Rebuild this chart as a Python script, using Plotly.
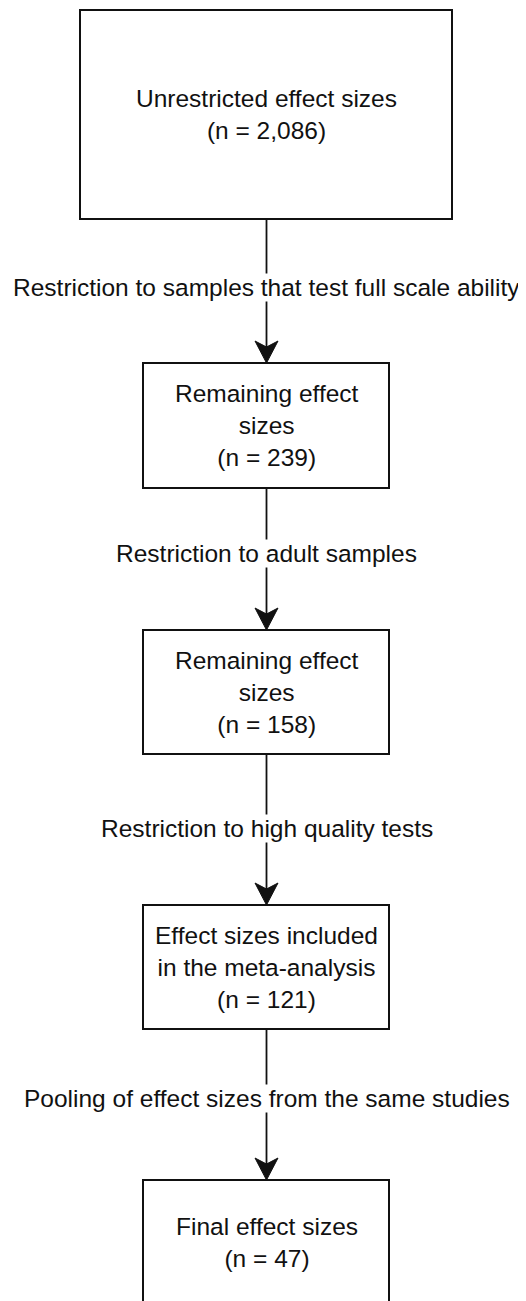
import plotly.graph_objects as go

# ---- data (content) ----
box_titles = [
    "Unrestricted effect sizes",
    "Remaining effect<br>sizes",
    "Remaining effect<br>sizes",
    "Effect sizes included<br>in the meta-analysis",
    "Final effect sizes",
]
box_counts = ["2,086", "239", "158", "121", "47"]
step_labels = [
    "Restriction to samples that test full scale ability",
    "Restriction to adult samples",
    "Restriction to high quality tests",
    "Pooling of effect sizes from the same studies",
]

# ---- layout geometry (pixels, y downward) ----
W, H = 526, 1301
PAGE_MARGIN = 8  # default body margin of the html page
cx = 266.5
box_x0 = [80, 143, 143, 143, 143]
box_x1 = [452, 389, 389, 389, 389]
box_y0 = [10, 363, 630, 905, 1180]
box_y1 = [219, 488, 754, 1029, 1305]
label_y = [287, 553, 828, 1098]
arrow_len = 22
arrow_half = 11.5
arrow_notch = 6

font = dict(family="Liberation Sans, Arial, sans-serif", size=24.5, color="#111111")

fig = go.Figure()
shapes = []
annotations = []

for i in range(len(box_titles)):
    shapes.append(dict(type="rect", xref="x", yref="y",
                       x0=box_x0[i], x1=box_x1[i], y0=box_y0[i], y1=box_y1[i],
                       line=dict(color="#111111", width=2), fillcolor="white", layer="below"))
    annotations.append(dict(xref="x", yref="y", x=cx, y=(box_y0[i] + box_y1[i]) / 2,
                            text=f"{box_titles[i]}<br>(n = {box_counts[i]})",
                            showarrow=False, font=font, xanchor="center", yanchor="middle",
                            align="center"))

for i in range(len(step_labels)):
    top = box_y1[i]
    tip = box_y0[i + 1]
    shapes.append(dict(type="line", xref="x", yref="y", x0=cx, x1=cx,
                       y0=top, y1=tip - arrow_len + arrow_notch,
                       line=dict(color="#111111", width=1.8), layer="below"))
    path = (f"M {cx},{tip} L {cx - arrow_half},{tip - arrow_len} "
            f"L {cx},{tip - arrow_len + arrow_notch} L {cx + arrow_half},{tip - arrow_len} Z")
    shapes.append(dict(type="path", xref="x", yref="y", path=path,
                       fillcolor="#111111", line=dict(color="#111111", width=1), layer="below"))
    annotations.append(dict(xref="x", yref="y", x=cx, y=label_y[i], text=step_labels[i],
                            showarrow=False, font=font, xanchor="center", yanchor="middle",
                            bgcolor="white", borderpad=0))

fig.update_layout(
    width=W - PAGE_MARGIN, height=H - PAGE_MARGIN,
    margin=dict(l=0, r=0, t=0, b=0),
    paper_bgcolor="white", plot_bgcolor="white",
    xaxis=dict(range=[PAGE_MARGIN, W], visible=False, fixedrange=True),
    yaxis=dict(range=[H, PAGE_MARGIN], visible=False, fixedrange=True),
    shapes=shapes, annotations=annotations, showlegend=False,
)

fig.write_html("out.html")
